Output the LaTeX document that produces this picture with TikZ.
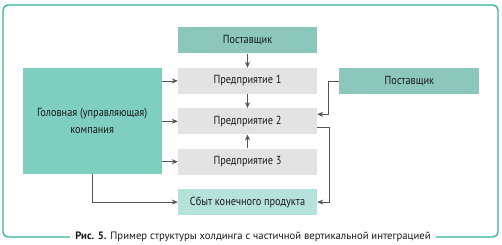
\documentclass[tikz,border=0pt]{standalone}
\usepackage{fontspec}
\setmainfont{PT Sans}
\newfontfamily\boxfont[FakeStretch=0.88]{PT Sans}
\usetikzlibrary{arrows.meta,positioning}

\definecolor{frameteal}{HTML}{2EB39C}
\definecolor{supteal}{HTML}{8CC7BB}
\definecolor{headteal}{HTML}{7FCFC0}
\definecolor{saleteal}{HTML}{B5E2DA}
\definecolor{entgray}{HTML}{E3E3E3}
\definecolor{linegray}{HTML}{555555}

\begin{document}
\begin{tikzpicture}[
    block/.style={align=center, minimum width=139pt, minimum height=26pt, inner sep=2pt, font=\boxfont\fontsize{11.7}{17}\selectfont, text=black!90},
    arr/.style={-{Stealth[length=6pt,width=5pt]}, linegray, line width=0.7pt}
  ]
    \useasboundingbox (0,0) rectangle (502pt,245pt);
    \draw[frameteal, line width=1.3pt, rounded corners=5pt] (3pt,8pt) rectangle (498pt,240pt);
    \node[fill=white, inner xsep=5pt, font=\fontsize{10.7}{12}\selectfont, text=black!90] (cap) at (253pt,8pt) {\textbf{Рис. 5.} Пример структуры холдинга с частичной вертикальной интеграцией};

    \node[block, fill=supteal] (sup1) at (247.5pt,204.5pt) {Поставщик};
    \node[block, fill=entgray, below=14pt of sup1] (ent1) {Предприятие 1};
    \node[block, fill=entgray, below=14pt of ent1] (ent2) {Предприятие 2};
    \node[block, fill=entgray, below=14pt of ent2] (ent3) {Предприятие 3};
    \node[block, fill=saleteal, below=14pt of ent3] (sale) {Сбыт конечного продукта};
    \node[block, fill=headteal, left=16pt of ent2, minimum height=106pt] (head) {Головная (управляющая)\\компания};
    \node[block, fill=supteal, right=22pt of ent1, minimum width=140pt] (sup2) {Поставщик};

    \draw[arr] (sup1) -- (ent1);
    \draw[arr] (ent1) -- (ent2);
    \draw[arr] (ent3) -- (ent2);
    \draw[arr] (head.east |- ent1) -- (ent1);
    \draw[arr] (head.east |- ent2) -- (ent2);
    \draw[arr] (head.east |- ent3) -- (ent3);
    \draw[arr] (head.south) |- (sale);
    \draw[arr] (sup2.west) -- ++(-11pt,0) |- ([yshift=7pt]ent2.east);
    \draw[arr] ([yshift=-6pt]ent2.east) -- ++(12pt,0) |- (sale.east);
  \end{tikzpicture}
\end{document}
